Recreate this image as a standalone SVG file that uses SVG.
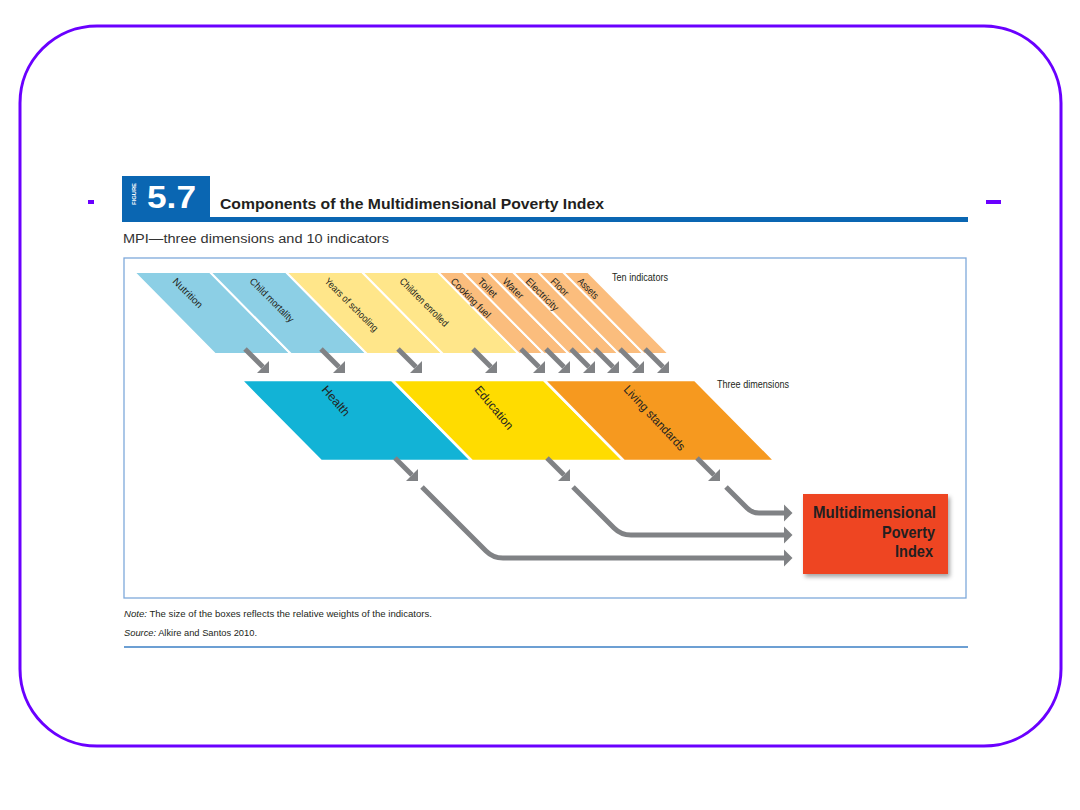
<svg xmlns="http://www.w3.org/2000/svg" width="1080" height="810" viewBox="0 0 1080 810">
<style>
.ind{font-family:"Liberation Sans Narrow","Liberation Sans",sans-serif;font-size:10px;fill:#231f20}
.dim{font-family:"Liberation Sans Narrow","Liberation Sans",sans-serif;font-size:12px;fill:#231f20}
.lbl{font-family:"Liberation Sans Narrow","Liberation Sans",sans-serif;font-size:10.5px;fill:#231f20}
.sep{stroke:#fff;stroke-width:2}
.con{fill:none;stroke:#808285;stroke-width:5}
.note{font-family:"Liberation Sans",sans-serif;font-size:9.5px;fill:#231f20}
</style>
<defs>
<marker id="ah" markerUnits="userSpaceOnUse" viewBox="-10 -10 20 20" markerWidth="20" markerHeight="20" refX="0" refY="0" orient="auto" overflow="visible">
<path d="M0,-8.5 L8.5,0 L0,8.5 Z" fill="#808285"/>
</marker>
<filter id="sh" x="-10%" y="-10%" width="130%" height="130%">
<feDropShadow dx="2" dy="3" stdDeviation="2" flood-color="#000" flood-opacity="0.35"/>
</filter>
</defs>
<rect x="20" y="26" width="1041" height="720" rx="77" ry="77" fill="#fff" stroke="#6a00ff" stroke-width="3"/>
<rect x="88" y="200" width="6" height="4" fill="#6a00ff"/>
<rect x="986" y="200" width="15" height="4" fill="#6a00ff"/>
<g id="header">
<rect x="122" y="176" width="88" height="46" fill="#0a66b2"/>
<rect x="122" y="217" width="846" height="5" fill="#0a66b2"/>
<text x="135.5" y="194" transform="rotate(-90 135.5 194)" text-anchor="middle" font-family="Liberation Sans,sans-serif" font-weight="bold" font-size="6" fill="#fff" textLength="22" lengthAdjust="spacingAndGlyphs">FIGURE</text>
<text x="147" y="208" font-family="Liberation Sans,sans-serif" font-weight="bold" font-size="31" fill="#fff" textLength="49" lengthAdjust="spacingAndGlyphs">5.7</text>
<text x="220" y="209" font-family="Liberation Sans,sans-serif" font-weight="bold" font-size="14" fill="#231f20" textLength="384" lengthAdjust="spacingAndGlyphs">Components of the Multidimensional Poverty Index</text>
<text x="123" y="243" font-family="Liberation Sans,sans-serif" font-size="12" fill="#333" textLength="266" lengthAdjust="spacingAndGlyphs">MPI—three dimensions and 10 indicators</text>
</g>
<rect id="frame" x="124" y="258" width="842" height="340" fill="none" stroke="#7ea9db" stroke-width="1.3"/>
<g id="indicators">
<g id="nutrition"><polygon class="sep" points="134,272 210,272 291,354 215,354" fill="#8ccfe5"/><text class="ind" x="172" y="282" transform="rotate(45 172 282)" textLength="38" lengthAdjust="spacingAndGlyphs">Nutrition</text></g>
<g id="child-mortality"><polygon class="sep" points="210,272 286,272 367,354 291,354" fill="#8ccfe5"/><text class="ind" x="249" y="282" transform="rotate(45 249 282)" textLength="58" lengthAdjust="spacingAndGlyphs">Child mortality</text></g>
<g id="years-schooling"><polygon class="sep" points="286,272 362,272 443,354 367,354" fill="#ffe68a"/><text class="ind" x="324" y="282" transform="rotate(45 324 282)" textLength="71" lengthAdjust="spacingAndGlyphs">Years of schooling</text></g>
<g id="children-enrolled"><polygon class="sep" points="362,272 438,272 519,354 443,354" fill="#ffe68a"/><text class="ind" x="399" y="282" transform="rotate(45 399 282)" textLength="64" lengthAdjust="spacingAndGlyphs">Children enrolled</text></g>
<g id="cooking-fuel"><polygon class="sep" points="438,272 463,272 544,354 519,354" fill="#fbbd7d"/><text class="ind" x="450" y="282" transform="rotate(45 450 282)" textLength="52" lengthAdjust="spacingAndGlyphs">Cooking fuel</text></g>
<g id="toilet"><polygon class="sep" points="463,272 488,272 569,354 544,354" fill="#fbbd7d"/><text class="ind" x="477" y="282" transform="rotate(45 477 282)" textLength="23" lengthAdjust="spacingAndGlyphs">Toilet</text></g>
<g id="water"><polygon class="sep" points="488,272 513,272 594,354 569,354" fill="#fbbd7d"/><text class="ind" x="502" y="282" transform="rotate(45 502 282)" textLength="25" lengthAdjust="spacingAndGlyphs">Water</text></g>
<g id="electricity"><polygon class="sep" points="513,272 538,272 619,354 594,354" fill="#fbbd7d"/><text class="ind" x="525" y="282" transform="rotate(45 525 282)" textLength="42" lengthAdjust="spacingAndGlyphs">Electricity</text></g>
<g id="floor"><polygon class="sep" points="538,272 563,272 644,354 619,354" fill="#fbbd7d"/><text class="ind" x="550" y="282" transform="rotate(45 550 282)" textLength="21" lengthAdjust="spacingAndGlyphs">Floor</text></g>
<g id="assets"><polygon class="sep" points="563,272 588,272 669,354 644,354" fill="#fbbd7d"/><text class="ind" x="577" y="282" transform="rotate(45 577 282)" textLength="25" lengthAdjust="spacingAndGlyphs">Assets</text></g>
<text class="lbl" x="612" y="281" textLength="56" lengthAdjust="spacingAndGlyphs">Ten indicators</text>
</g>
<g id="dimensions">
<g id="health"><polygon points="241,380 392,380 472,461 321,461" fill="#12b3d6" stroke="#fff" stroke-width="2.5"/><text class="dim" x="321" y="390" transform="rotate(49 321 390)" textLength="36" lengthAdjust="spacingAndGlyphs">Health</text></g>
<g id="education"><polygon points="392,380 544,380 624,461 472,461" fill="#ffdc00" stroke="#fff" stroke-width="2.5"/><text class="dim" x="474" y="390" transform="rotate(50 474 390)" textLength="53" lengthAdjust="spacingAndGlyphs">Education</text></g>
<g id="living-standards"><polygon points="544,380 695,380 775,461 624,461" fill="#f6991f" stroke="#fff" stroke-width="2.5"/><text class="dim" x="623" y="390" transform="rotate(47 623 390)" textLength="84" lengthAdjust="spacingAndGlyphs">Living standards</text></g>
<text class="lbl" x="717" y="388" textLength="72" lengthAdjust="spacingAndGlyphs">Three dimensions</text>
</g>
<g id="mpi">
<rect x="803" y="494" width="145" height="80" fill="#ee4423" filter="url(#sh)"/>
<g font-family="Liberation Sans Narrow,Liberation Sans,sans-serif" font-weight="bold" font-size="17" fill="#231f20" text-anchor="end">
<text x="936" y="518" textLength="123" lengthAdjust="spacingAndGlyphs">Multidimensional</text>
<text x="935" y="538" textLength="53" lengthAdjust="spacingAndGlyphs">Poverty</text>
<text x="933" y="557" textLength="38" lengthAdjust="spacingAndGlyphs">Index</text>
</g>
</g>
<g id="connectors" class="connectors">
<line class="con" x1="245" y1="349" x2="263" y2="367" marker-end="url(#ah)"/>
<line class="con" x1="321" y1="349" x2="339" y2="367" marker-end="url(#ah)"/>
<line class="con" x1="398" y1="349" x2="416" y2="367" marker-end="url(#ah)"/>
<line class="con" x1="473" y1="349" x2="491" y2="367" marker-end="url(#ah)"/>
<line class="con" x1="521" y1="349" x2="539" y2="367" marker-end="url(#ah)"/>
<line class="con" x1="546" y1="349" x2="564" y2="367" marker-end="url(#ah)"/>
<line class="con" x1="571" y1="349" x2="589" y2="367" marker-end="url(#ah)"/>
<line class="con" x1="595" y1="349" x2="613" y2="367" marker-end="url(#ah)"/>
<line class="con" x1="620" y1="349" x2="638" y2="367" marker-end="url(#ah)"/>
<line class="con" x1="645" y1="349" x2="663" y2="367" marker-end="url(#ah)"/>
<line class="con" x1="395" y1="458" x2="412" y2="475" marker-end="url(#ah)"/>
<line class="con" x1="547" y1="458" x2="564" y2="475" marker-end="url(#ah)"/>
<line class="con" x1="697" y1="458" x2="714" y2="475" marker-end="url(#ah)"/>
<path class="con" d="M422,487 L486,551 Q493,558 503,558 L784,558" marker-end="url(#ah)"/>
<path class="con" d="M573,487 L614,528 Q621,535 631,535 L784,535" marker-end="url(#ah)"/>
<path class="con" d="M726,487 L747,508 Q752,513 759,513 L784,513" marker-end="url(#ah)"/>
</g>
<g id="notes">
<text class="note" x="124" y="617" textLength="308" lengthAdjust="spacingAndGlyphs"><tspan font-style="italic">Note:</tspan> The size of the boxes reflects the relative weights of the indicators.</text>
<text class="note" x="124" y="636" textLength="133" lengthAdjust="spacingAndGlyphs"><tspan font-style="italic">Source:</tspan> Alkire and Santos 2010.</text>
<line x1="124" y1="647" x2="968" y2="647" stroke="#3b7fc4" stroke-width="1.5"/>
</g>
</svg>
